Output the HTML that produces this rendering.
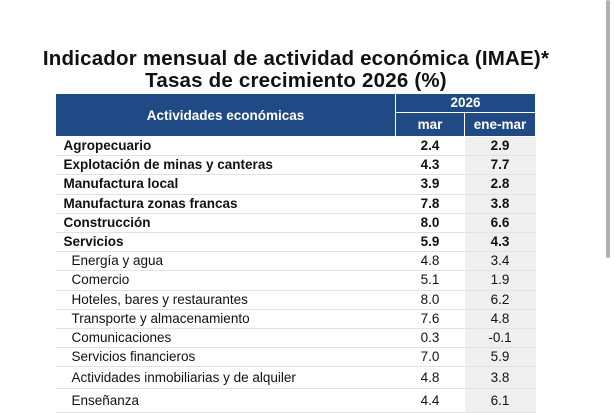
<!DOCTYPE html>
<html><head><meta charset="utf-8"><style>
body{margin:0;width:615px;height:410px;background:#fff;overflow:hidden;position:relative;font-family:"Liberation Sans",Arial,sans-serif;color:#111}
.t{position:absolute;left:0;width:592px;text-align:center;font-weight:bold;font-size:20.5px;line-height:22px;letter-spacing:0.2px}
table{position:absolute;left:55px;top:93px;border-collapse:collapse;font-size:13.5px}
td{padding:0;height:18.2px;line-height:18px;border-bottom:1px solid #e2e2e2}
td.n{text-align:center}
td.c{background:#efefef}
th{background:#1f4a85;color:#fff;font-weight:bold;font-size:13.5px;border:1px solid #fff;padding:0}
.b td{font-weight:bold}
.l{padding-left:8px}
.s{padding-left:16px}
.sb{position:absolute;left:606px;top:0;width:4px;height:258px;background:#b0b0b0;border-radius:2px}
</style></head><body>
<div class="t" style="top:48px">Indicador mensual de actividad económica (IMAE)*</div>
<div class="t" style="top:70px">Tasas de crecimiento 2026 (%)</div>
<table>
<tr><th rowspan="2" style="width:339px;height:42px">Actividades económicas</th><th colspan="2" style="height:17px">2026</th></tr>
<tr><th style="width:68px;height:22px">mar</th><th style="width:70px">ene-mar</th></tr>
<tr class="b"><td class="l">Agropecuario</td><td class="n">2.4</td><td class="n c">2.9</td></tr>
<tr class="b"><td class="l">Explotación de minas y canteras</td><td class="n">4.3</td><td class="n c">7.7</td></tr>
<tr class="b"><td class="l">Manufactura local</td><td class="n">3.9</td><td class="n c">2.8</td></tr>
<tr class="b"><td class="l">Manufactura zonas francas</td><td class="n">7.8</td><td class="n c">3.8</td></tr>
<tr class="b"><td class="l">Construcción</td><td class="n">8.0</td><td class="n c">6.6</td></tr>
<tr class="b"><td class="l">Servicios</td><td class="n">5.9</td><td class="n c">4.3</td></tr>
<tr><td class="s">Energía y agua</td><td class="n">4.8</td><td class="n c">3.4</td></tr>
<tr><td class="s">Comercio</td><td class="n">5.1</td><td class="n c">1.9</td></tr>
<tr><td class="s">Hoteles, bares y restaurantes</td><td class="n">8.0</td><td class="n c">6.2</td></tr>
<tr><td class="s">Transporte y almacenamiento</td><td class="n">7.6</td><td class="n c">4.8</td></tr>
<tr><td class="s">Comunicaciones</td><td class="n">0.3</td><td class="n c">-0.1</td></tr>
<tr><td class="s">Servicios financieros</td><td class="n">7.0</td><td class="n c">5.9</td></tr>
<tr><td class="s" style="height:21px">Actividades inmobiliarias y de alquiler</td><td class="n">4.8</td><td class="n c">3.8</td></tr>
<tr><td class="s" style="height:23px">Enseñanza</td><td class="n">4.4</td><td class="n c">6.1</td></tr>
</table>
<div class="sb"></div>
</body></html>
